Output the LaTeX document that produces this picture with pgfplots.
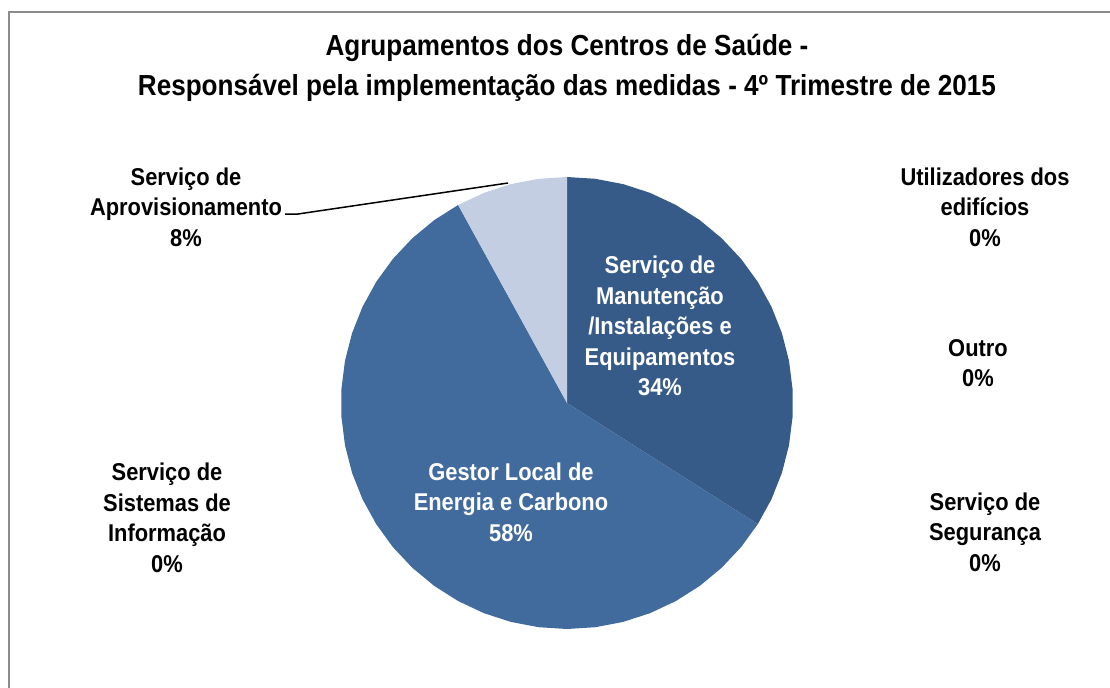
\documentclass[border=0pt]{standalone}
\usepackage{pgfplots}
\pgfplotsset{compat=1.18}
\usepgfplotslibrary{polar}
\usepackage{fontspec}
\setmainfont{Liberation Sans}[FakeStretch=0.9]

\definecolor{sliceA}{HTML}{375B88}
\definecolor{sliceB}{HTML}{416B9D}
\definecolor{sliceC}{HTML}{C3CEE2}
\definecolor{frameg}{HTML}{8C8C8C}

\begin{document}
\begin{tikzpicture}
  % pixel grid of the reference: 1 px = 0.5pt, y downwards
  \begin{scope}[x=0.5pt, y=-0.5pt]
    \path[use as bounding box] (0,0) rectangle (1110,687);
    \begin{scope}
      \clip (0,0) rectangle (1110,687);
      \draw[frameg, line width=1pt] (9,12) rectangle (1130,710);
    \end{scope}
  \end{scope}

  % pie: values in percent, turned to angles clockwise from the top
  \begin{polaraxis}[
      at={(283.5pt,-201.5pt)}, anchor=center,
      scale only axis, width=226pt, height=226pt,
      hide axis, clip=false,
      ymin=0, ymax=1,
      x filter/.expression={90-3.6*x},
    ]
    % Servico de Manutencao /Instalacoes e Equipamentos: 0 -> 34
    \addplot[draw=none, fill=sliceA] coordinates {
      (0,0) (0,1) (2,1) (4,1) (6,1) (8,1) (10,1) (12,1) (14,1) (16,1)
      (18,1) (20,1) (22,1) (24,1) (26,1) (28,1) (30,1) (32,1) (34,1) (0,0)
    };
    % Gestor Local de Energia e Carbono: 34 -> 92
    \addplot[draw=none, fill=sliceB] coordinates {
      (0,0) (34,1) (36,1) (38,1) (40,1) (42,1) (44,1) (46,1) (48,1) (50,1)
      (52,1) (54,1) (56,1) (58,1) (60,1) (62,1) (64,1) (66,1) (68,1) (70,1)
      (72,1) (74,1) (76,1) (78,1) (80,1) (82,1) (84,1) (86,1) (88,1) (90,1)
      (92,1) (0,0)
    };
    % Servico de Aprovisionamento: 92 -> 100
    \addplot[draw=none, fill=sliceC] coordinates {
      (0,0) (92,1) (94,1) (96,1) (98,1) (100,1) (0,0)
    };
  \end{polaraxis}

  \begin{scope}[x=0.5pt, y=-0.5pt]
    \node[align=center, font=\bfseries\fontsize{14.5}{20}\selectfont]
      at (567,68) {Agrupamentos dos Centros de Saúde -\\
      Responsável pela implementação das medidas - 4º Trimestre de 2015};
    \begin{scope}[every node/.style={align=center,
        font=\bfseries\fontsize{12.15}{15.25}\selectfont}]
      \node[white] at (660,326) {Serviço de\\Manutenção\\/Instalações e\\Equipamentos\\34\%};
      \node[white] at (511,502) {Gestor Local de\\Energia e Carbono\\58\%};
      \node at (186,207) {Serviço de\\Aprovisionamento\\8\%};
      \node at (167,518) {Serviço de\\Sistemas de\\Informação\\0\%};
      \node at (985,207) {Utilizadores dos\\edifícios\\0\%};
      \node at (978,363) {Outro\\0\%};
      \node at (985,532) {Serviço de\\Segurança\\0\%};
    \end{scope}
    \draw[line width=0.75pt] (285,214) -- (298,214) -- (508,183);
  \end{scope}
\end{tikzpicture}
\end{document}
